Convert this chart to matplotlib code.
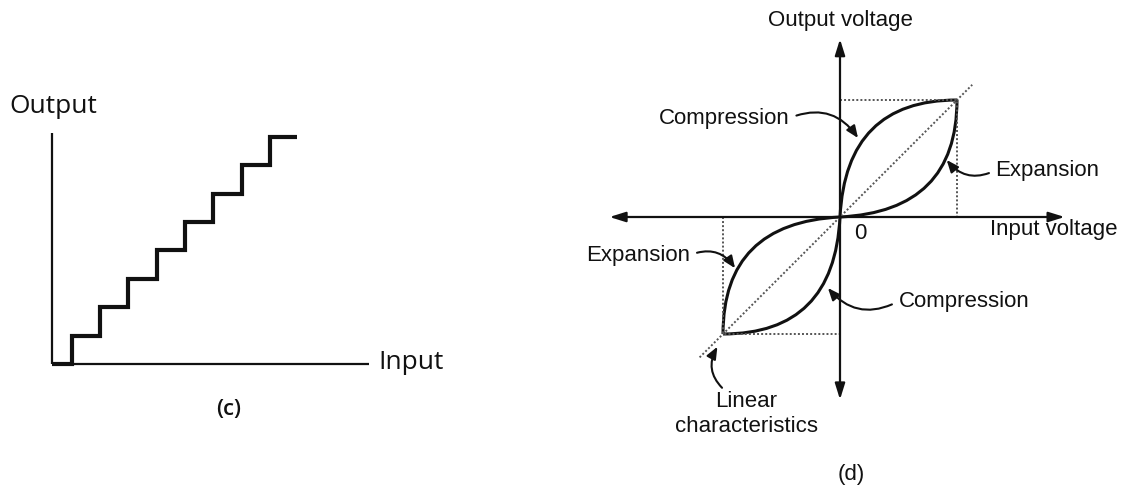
import matplotlib.pyplot as plt
from matplotlib.path import Path
from matplotlib.patches import PathPatch

# (c) staircase quantiser
step_edges = [0, 0.7, 1.7, 2.7, 3.7, 4.7, 5.7, 6.7, 7.7, 8.65]
step_levels = [0, 1, 2, 3, 4, 5, 6, 7, 8]
c_x_axis = [0, 11.2]
c_y_axis = [0, 8.15]

# (d) compander characteristics (normalised voltage)
corner = 1.0
bend = 0.05           # bezier control offset
diag_ends = [-1.2, 1.13]
d_x_axis = [-1.97, 1.92]
d_y_axis = [-1.56, 1.52]

W, H = 1133, 493
fig = plt.figure(figsize=(W / 100, H / 100), dpi=100)
fig.patch.set_facecolor('white')


def px_axes(left_px, width_px, x0_px, y0_px, ux, uy):
    ax = fig.add_axes([left_px / W, 0, width_px / W, 1])
    xmin = -(x0_px - left_px) / ux
    ax.set_xlim(xmin, xmin + width_px / ux)
    ymin = -(H - y0_px) / uy
    ax.set_ylim(ymin, ymin + H / uy)
    ax.axis('off')
    return ax


ink = '#111111'

# ---- left panel
ax1 = px_axes(0, 510, 52, 364, 28.3, 28.4)
ax1.plot([0, 0], c_y_axis, color=ink, lw=1.6, solid_capstyle='butt')
ax1.plot(c_x_axis, [0, 0], color=ink, lw=1.6, solid_capstyle='butt')
st = ax1.stairs(step_levels, step_edges, baseline=None, color=ink, lw=3)
st.set_joinstyle('miter')
st.set_capstyle('butt')

cfont = dict(family='Open Sans', fontsize=19, color=ink)
ax1.text(-1.5, 9.05, 'Output', ha='left', va='center', **cfont)
ax1.text(11.55, 0.07, 'Input', ha='left', va='center', **cfont)
ax1.text(6.25, -1.6, '(c)', ha='center', va='center', family='Open Sans',
         fontsize=16, fontweight='semibold', color=ink)

# ---- right panel
ax2 = px_axes(510, 623, 840, 217, 117, 117)
axis_arrow = dict(arrowstyle='<|-|>,head_length=0.8,head_width=0.25', lw=1.6,
                  color=ink, shrinkA=0, shrinkB=0, mutation_scale=12)
ax2.annotate('', xy=(d_x_axis[1], 0), xytext=(d_x_axis[0], 0), arrowprops=axis_arrow)
ax2.annotate('', xy=(0, d_y_axis[1]), xytext=(0, d_y_axis[0]), arrowprops=axis_arrow)

dots = dict(ls=(0, (1, 1.1)), lw=1.4, color='#555555')
ax2.plot([0, corner, corner], [corner, corner, 0], **dots)
ax2.plot([-corner, -corner, 0], [0, -corner, -corner], **dots)
ax2.plot(diag_ends, diag_ends, **dots)


def bez(p0, c, p1):
    return Path([p0, c, p1], [Path.MOVETO, Path.CURVE3, Path.CURVE3])


for s in (1, -1):
    comp = bez((0, 0), (s * bend, s * corner), (s * corner, s * corner))
    expn = bez((0, 0), (s * corner, s * bend), (s * corner, s * corner))
    for p in (comp, expn):
        ax2.add_patch(PathPatch(p, fill=False, lw=2.2, edgecolor=ink,
                                joinstyle='round'))

dfont = dict(family='Liberation Sans', fontsize=16, color=ink)
ax2.text(0, 1.68, 'Output voltage', ha='center', va='center', **dfont)
ax2.text(0.17, -0.14, '0', ha='center', va='center', **dfont)
ax2.text(1.28, -0.11, 'Input voltage', ha='left', va='center', **dfont)
ax2.text(0.1, -2.2, '(d)', ha='center', va='center', **dfont)


def leader(label, tip, pos, ha, rel, rad):
    ax2.annotate(label, xy=tip, xytext=pos, ha=ha, va='center',
                 arrowprops=dict(arrowstyle='-|>,head_length=0.6,head_width=0.25',
                                 color=ink, lw=1.5, shrinkA=3, shrinkB=0,
                                 mutation_scale=12, relpos=rel,
                                 connectionstyle='arc3,rad=%s' % rad),
                 **dfont)


leader('Compression', (0.154, 0.675), (-0.43, 0.846), 'right', (1, 0.5), -0.4)
leader('Expansion', (0.912, 0.487), (1.33, 0.40), 'left', (0, 0.5), -0.4)
leader('Expansion', (-0.897, -0.438), (-1.28, -0.325), 'right', (1, 0.5), -0.4)
leader('Compression', (-0.103, -0.607), (0.5, -0.72), 'left', (0, 0.5), -0.4)
ax2.annotate('Linear\ncharacteristics', xy=(-1.048, -1.109), xytext=(-0.8, -1.68),
             ha='center', va='center', linespacing=1.25,
             arrowprops=dict(arrowstyle='-|>,head_length=0.6,head_width=0.25',
                             color=ink, lw=1.5, shrinkA=0, shrinkB=0,
                             mutation_scale=12, relpos=(0.35, 1),
                             connectionstyle='arc3,rad=-0.4'),
             **dfont)

fig.savefig('out.png', dpi=100, facecolor='white')
